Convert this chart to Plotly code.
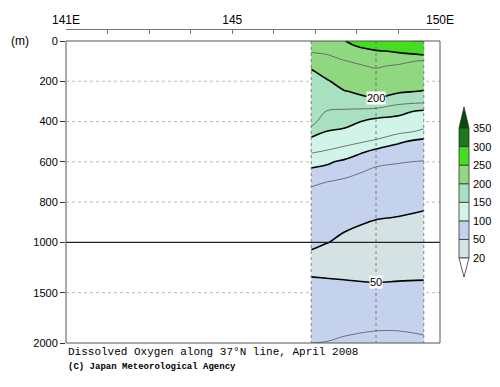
import plotly.graph_objects as go

# ---------------- data ----------------
lon_cols = [146.9, 147.28, 147.69, 148.46, 149.0, 149.61]
stations = [146.9, 148.46, 149.61]
depths = [0, 25, 50, 75, 100, 125, 150, 200, 250, 300, 350, 400, 450, 500, 550,
          600, 650, 700, 800, 900, 1000, 1100, 1200, 1300, 1400, 1500, 1600, 1800, 2000]

col_a = [235, 231, 227, 220, 212, 203, 198, 194, 191, 188, 185, 182, 168, 136, 127,
         113, 92, 78, 66, 58, 56, 48, 44, 47, 54, 59, 63, 70, 75]
col_b = [240, 235, 229, 223, 218, 213, 208, 198, 192, 185, 174, 163, 149, 136, 123,
         104, 90, 75, 63, 55, 50.5, 45, 43, 46, 53, 58, 62, 69, 75.5]
col_c = [249, 243, 236, 230, 224, 220, 216, 208, 199, 186, 172, 158, 146, 131, 118,
         95, 81, 72, 60, 53, 47, 43, 42, 45, 52, 58, 63, 71, 77]
col_d = [270, 262, 248, 240, 233, 227, 222, 214, 207, 196, 165, 143, 136, 122, 92,
         79, 71, 66, 57, 49, 45, 42, 41, 44, 50, 56, 62, 73, 78]
col_e = [274, 266, 253, 243, 231, 222, 218, 211, 203, 184, 155, 143, 131, 103, 88,
         76, 70, 64, 55, 48, 44, 41, 40, 44, 51, 56, 62, 73, 78]
col_f = [276, 270, 260, 247, 222, 216, 213, 208, 199, 180, 146, 136, 121, 92, 84,
         74, 68, 63, 53, 46, 43, 40, 40, 44, 52, 57, 62, 72, 77]
columns = [col_a, col_b, col_c, col_d, col_e, col_f]

levels = [20, 50, 100, 150, 200, 250, 300, 350]
band_colors = ["#ffffff", "#d4e2e4", "#c4d2ee", "#d0f4e8", "#a8e0c0",
               "#90d880", "#44dd22", "#1a7a1a", "#0a4a0a"]

depth_ticks = [0, 200, 400, 600, 800, 1000, 1500, 2000]
lon_ticks = [141, 142, 143, 144, 145, 146, 147, 148, 149, 150]
lon_labels = ["141E", "", "", "", "145", "", "", "", "", "150E"]
grid_depths = [200, 400, 600, 800, 1500]
labelled = [(148.46, 285, "200"), (148.46, 1396, "50")]


def tdepth(d):
    # 0-1000 m linear, 1000-2000 m compressed by half
    return d if d <= 1000 else 1000 + (d - 1000) / 2.0


yt = [tdepth(d) for d in depths]
z = [[columns[j][i] for j in range(len(lon_cols))] for i in range(len(depths))]

# colour scale for bands <50, 50-100, ..., >350 (8 bands)
fill_cols = band_colors[1:]
nb = len(fill_cols)
cscale = [[k / (nb - 1), c] for k, c in enumerate(fill_cols)]

fig = go.Figure()
fig.add_trace(go.Contour(
    x=lon_cols, y=yt, z=z, colorscale=cscale, showscale=False,
    contours=dict(start=50, end=350, size=50, coloring="fill"),
    line=dict(width=0), hoverinfo="skip"))
fig.add_trace(go.Contour(
    x=lon_cols, y=yt, z=z, showscale=False,
    contours=dict(start=75, end=325, size=50, coloring="none"),
    line=dict(color="#555555", width=0.8, smoothing=1), hoverinfo="skip"))
fig.add_trace(go.Contour(
    x=lon_cols, y=yt, z=z, showscale=False,
    contours=dict(start=50, end=350, size=50, coloring="none"),
    line=dict(color="#000000", width=1.6, smoothing=1), hoverinfo="skip"))

W, H = 500, 387
ml, mr, mt, mb = 66, 60, 29, 44
plot_h = H - mt - mb
box_top_px = 41
dom_top = (H - mb - box_top_px) / plot_h

shapes = []
# dotted depth grid lines (beneath the data)
for d in grid_depths:
    shapes.append(dict(type="line", xref="x domain", yref="y", x0=0, x1=1, y0=tdepth(d), y1=tdepth(d),
                       line=dict(color="#bbbbbb", width=1, dash="dot"), layer="below"))
# station dotted lines
for s in stations:
    shapes.append(dict(type="line", xref="x", yref="y", x0=s, x1=s, y0=0, y1=tdepth(2000),
                       line=dict(color="#666666", width=0.8, dash="dot"), layer="above"))
# 1000 m separator
shapes.append(dict(type="line", xref="x domain", yref="y", x0=0, x1=1, y0=tdepth(1000), y1=tdepth(1000),
                   line=dict(color="#222222", width=1.2), layer="above"))
# plot box
shapes.append(dict(type="rect", xref="x domain", yref="y domain", x0=0, x1=1, y0=0, y1=1,
                   line=dict(color="#555555", width=1), layer="above"))


def px_to_px(xp):
    return (xp - ml) / (W - ml - mr)


def py_to_py(yp):
    return (H - mb - yp) / plot_h


# colour bar (manual, with triangle ends)
cb_x0, cb_x1 = px_to_px(459), px_to_px(469)
cb_bottom, seg = 258.0, 18.57
annotations = []
for i in range(len(levels) - 1):
    y0 = py_to_py(cb_bottom - i * seg)
    y1 = py_to_py(cb_bottom - (i + 1) * seg)
    shapes.append(dict(type="rect", xref="paper", yref="paper", x0=cb_x0, x1=cb_x1, y0=y0, y1=y1,
                       fillcolor=band_colors[i + 1], line=dict(color="#333333", width=0.8)))
xm = (cb_x0 + cb_x1) / 2
yb = py_to_py(cb_bottom)
ybt = py_to_py(cb_bottom + 19)
ytop = py_to_py(cb_bottom - (len(levels) - 1) * seg)
yttp = py_to_py(cb_bottom - (len(levels) - 1) * seg - 21)
shapes.append(dict(type="path", xref="paper", yref="paper",
                   path=f"M {cb_x0} {yb} L {cb_x1} {yb} L {xm} {ybt} Z",
                   fillcolor=band_colors[0], line=dict(color="#333333", width=0.8)))
shapes.append(dict(type="path", xref="paper", yref="paper",
                   path=f"M {cb_x0} {ytop} L {cb_x1} {ytop} L {xm} {yttp} Z",
                   fillcolor=band_colors[-1], line=dict(color="#333333", width=0.8)))
for i, lv in enumerate(levels):
    annotations.append(dict(xref="paper", yref="paper", x=px_to_px(471), y=py_to_py(cb_bottom - i * seg),
                            text=str(lv), showarrow=False, xanchor="left", yanchor="middle",
                            font=dict(size=11, color="#000000", family="Liberation Sans")))

for (lx, ld, txt) in labelled:
    annotations.append(dict(x=lx, y=tdepth(ld), xref="x", yref="y", text=txt, showarrow=False,
                            bgcolor="#ffffff", borderpad=0,
                            font=dict(size=11, color="#000000", family="Liberation Sans")))

annotations.append(dict(xref="paper", yref="paper", x=px_to_px(20), y=py_to_py(41), text="(m)",
                        showarrow=False, xanchor="center", yanchor="middle",
                        font=dict(size=12, color="#000000", family="Liberation Sans")))
annotations.append(dict(xref="paper", yref="paper", x=0, y=py_to_py(352),
                        text="Dissolved Oxygen along 37°N line, April 2008", showarrow=False,
                        xanchor="left", yanchor="middle",
                        font=dict(size=11, color="#000000", family="Liberation Mono")))
annotations.append(dict(xref="paper", yref="paper", x=0, y=py_to_py(367),
                        text="<b>(C) Japan Meteorological Agency</b>", showarrow=False,
                        xanchor="left", yanchor="middle",
                        font=dict(size=9, color="#000000", family="Liberation Mono")))

fig.update_layout(
    width=W, height=H, margin=dict(l=ml, r=mr, t=mt, b=mb, autoexpand=False),
    paper_bgcolor="#ffffff", plot_bgcolor="#ffffff", showlegend=False,
    xaxis=dict(range=[141, 150], side="top", anchor="free", position=1, automargin=False,
               tickvals=lon_ticks, ticktext=lon_labels, ticks="inside", ticklen=4,
               tickcolor="#777777", showline=True, linecolor="#777777", linewidth=1,
               showgrid=False, zeroline=False,
               tickfont=dict(size=12, color="#000000", family="Liberation Sans")),
    yaxis=dict(range=[tdepth(2000), 0], domain=[0, dom_top], automargin=False,
               tickvals=[tdepth(d) for d in depth_ticks], ticktext=[str(d) for d in depth_ticks],
               ticks="outside", ticklen=5, tickcolor="#333333", showline=False,
               showgrid=False, zeroline=False,
               tickfont=dict(size=11, color="#000000", family="Liberation Sans")),
    shapes=shapes, annotations=annotations,
)

fig.write_html("out.html", config={"displayModeBar": False},
               post_script="document.body.style.margin='0';document.body.style.padding='0';")
